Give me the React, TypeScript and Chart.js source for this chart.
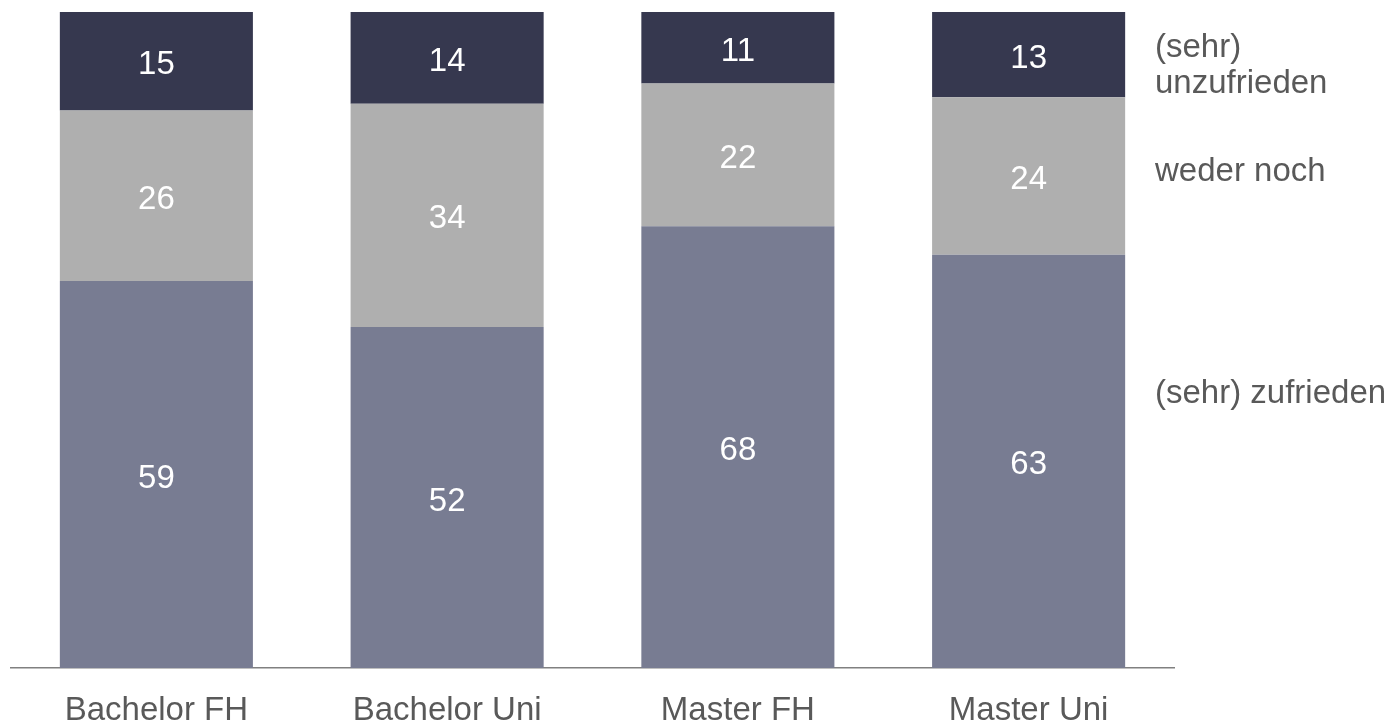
import React, { useEffect, useRef } from "react";
import { Chart, registerables } from "chart.js";

Chart.register(...registerables);

const categories = ["Bachelor FH", "Bachelor Uni", "Master FH", "Master Uni"];
const zufrieden = [59, 52, 68, 63];
const wederNoch = [26, 34, 22, 24];
const unzufrieden = [15, 14, 11, 13];
const seriesLabels = ["(sehr) zufrieden", "weder noch", "(sehr) unzufrieden"];
const seriesColors = ["#787c92", "#afafaf", "#36384f"];

const FONT = "'Liberation Sans', Arial, Helvetica, sans-serif";

const totals = categories.map((_, i) => zufrieden[i] + wederNoch[i] + unzufrieden[i]);
const normalize = (arr: number[]) => arr.map((v, i) => (v / totals[i]) * 100);
const rawSeries = [zufrieden, wederNoch, unzufrieden];

const valueLabelPlugin = {
  id: "valueLabels",
  afterDatasetsDraw(chart: any) {
    const ctx = chart.ctx;
    ctx.save();
    ctx.font = `33px ${FONT}`;
    ctx.fillStyle = "#ffffff";
    ctx.textAlign = "center";
    ctx.textBaseline = "middle";
    chart.data.datasets.forEach((ds: any, di: number) => {
      const meta = chart.getDatasetMeta(di);
      meta.data.forEach((bar: any, i: number) => {
        const y = (bar.y + bar.base) / 2 + 4;
        ctx.fillText(String(ds.rawValues[i]), bar.x, y);
      });
    });
    ctx.restore();
  },
};

const sideLegendPlugin = {
  id: "sideLegend",
  afterDraw(chart: any) {
    const ctx = chart.ctx;
    const yScale = chart.scales.y;
    const x = chart.chartArea.right - 19;
    // label lines with their vertical position in value units
    const entries: [string, number][] = [
      ["(sehr)", 94.5],
      ["unzufrieden", 89.0],
      ["weder noch", 75.6],
      ["(sehr) zufrieden", 41.8],
    ];
    ctx.save();
    ctx.font = `33px ${FONT}`;
    ctx.fillStyle = "#595959";
    ctx.textAlign = "left";
    ctx.textBaseline = "middle";
    entries.forEach(([t, v]) => {
      ctx.fillText(t, x, yScale.getPixelForValue(v));
    });
    ctx.restore();
  },
};

export default function App() {
  const ref = useRef<HTMLCanvasElement>(null);

  useEffect(() => {
    if (!ref.current) return;
    const chart = new Chart(ref.current, {
      type: "bar",
      data: {
        labels: categories,
        datasets: rawSeries.map((arr, k) => ({
          label: seriesLabels[k],
          data: normalize(arr),
          rawValues: arr,
          backgroundColor: seriesColors[k],
          borderWidth: 0,
          categoryPercentage: 1,
          barPercentage: 0.664,
        })) as any,
      },
      options: {
        animation: false,
        responsive: false,
        devicePixelRatio: 1,
        layout: { padding: { left: 11, right: 222, top: 12, bottom: 0 } },
        plugins: {
          legend: { display: false },
          tooltip: { enabled: false },
        },
        scales: {
          x: {
            stacked: true,
            grid: { display: false, drawTicks: false },
            border: { display: true, color: "#808080", width: 1.5 },
            ticks: {
              font: { family: FONT, size: 33 },
              color: "#595959",
              padding: 23,
              maxRotation: 0,
              autoSkip: false,
            },
            afterFit(axis: any) {
              axis.height = 58;
            },
          },
          y: {
            stacked: true,
            display: false,
            min: 0,
            max: 100,
          },
        },
      },
      plugins: [valueLabelPlugin, sideLegendPlugin],
    });
    return () => chart.destroy();
  }, []);

  return (
    <div style={{ position: "absolute", left: 0, top: 0, width: 1396, height: 726, background: "#fff" }}>
      <canvas ref={ref} width={1396} height={726} style={{ display: "block" }} />
    </div>
  );
}
